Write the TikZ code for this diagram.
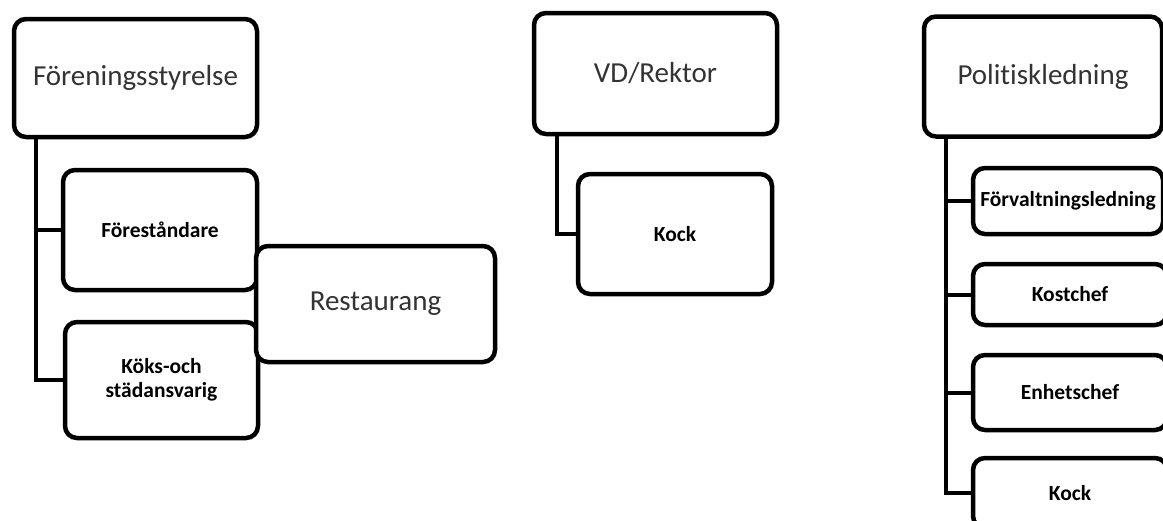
\documentclass[tikz,border=0pt]{standalone}
\usepackage{fontspec}
\setmainfont{Carlito}[Ligatures=NoCommon]
\begin{document}
\begin{tikzpicture}[x=1pt,y=-1pt,
 box/.style={draw, line width=4.5pt, rounded corners=12pt, fill=white, inner sep=0pt, align=center},
 title/.style={box, font=\fontsize{29}{34}\selectfont, text=black!80},
 sub/.style={box, font=\bfseries\fontsize{21.5}{24}\selectfont},
 link/.style={line width=4pt}]
\clip (0,0) rectangle (1163,520);
\fill[white] (0,0) rectangle (1163,520);
% left group
\node[title, minimum width=243pt, minimum height=118pt] (fs) at (135.5,78) {Föreningsstyrelse};
\node[sub, minimum width=194pt, minimum height=120pt] (fo) at (160,230) {Föreståndare};
\node[sub, minimum width=193pt, minimum height=116pt] (ko) at (161.5,380) {Köks-och\\städansvarig};
\draw[link] ([xshift=24pt]fs.south west) |- (fo.west);
\draw[link] ([xshift=24pt]fs.south west) |- (ko.west);
\node[title, minimum width=239pt, minimum height=116pt] (re) at (375.5,304) {Restaurang};
% middle group
\node[title, minimum width=243pt, minimum height=121pt] (vd) at (655.5,73.5) {VD/Rektor};
\node[sub, minimum width=194pt, minimum height=120pt] (k1) at (675,234) {Kock};
\draw[link] ([xshift=25pt]vd.south west) |- (k1.west);
% right group
\node[title, minimum width=238pt, minimum height=120pt] (pl) at (1043,76.5) {Politiskledning};
\node[sub, minimum width=190pt, minimum height=66pt] (fv) at (1068,201) {Förvaltningsledning};
\node[sub, minimum width=194pt, minimum height=61pt] (kc) at (1070,294.5) {Kostchef};
\node[sub, minimum width=194pt, minimum height=75pt] (eh) at (1070,392.5) {Enhetschef};
\node[sub, minimum width=194pt, minimum height=70pt] (k2) at (1070,493) {Kock};
\draw[link] ([xshift=24pt]pl.south west) |- (fv.west);
\draw[link] ([xshift=24pt]pl.south west) |- (kc.west);
\draw[link] ([xshift=24pt]pl.south west) |- (eh.west);
\draw[link] ([xshift=24pt]pl.south west) |- (k2.west);
\end{tikzpicture}
\end{document}
